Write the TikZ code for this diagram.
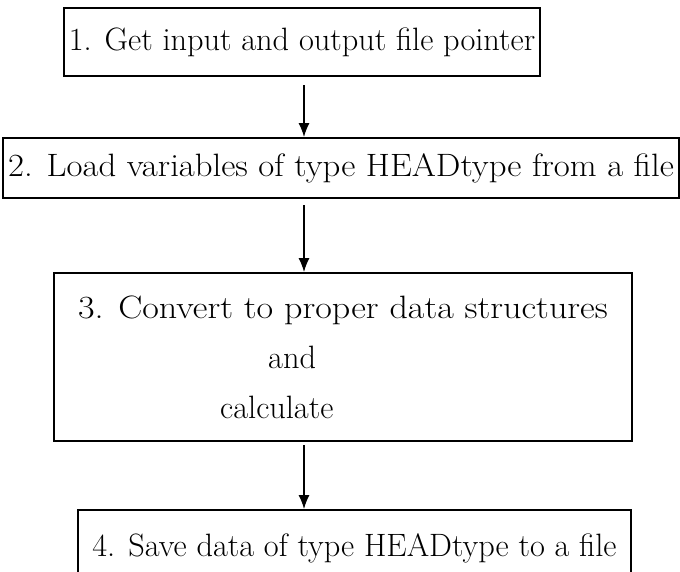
\documentclass[tikz,border=0pt]{standalone}
\usepackage{graphicx}
\usepackage{tikz}
\usetikzlibrary{calc,arrows.meta,positioning}
\tikzset{
	stepbox/.style={draw, line width=0.5mm, rectangle, inner sep=0pt, font=\fontsize{23}{35.6}\selectfont},
	flow/.style={line width=0.35mm, -{Latex[length=3.5mm,width=2.8mm]}}
}

\begin{document}
\begin{tikzpicture}
	%%%%% START %%%%%
	\useasboundingbox (0, 0) rectangle (17, -14.275);

	\node[stepbox, minimum width=11.9cm, minimum height=1.7cm] (get) at (7.55, -1.05) {1. Get input and output file pointer};
	\node[stepbox, minimum width=16.9cm, minimum height=1.5cm] (load) at (8.525, -4.2)
		{\scalebox{1.075}[1]{2. Load variables of type HEADtype from a file}};
	\node[stepbox, minimum width=14.45cm, minimum height=4.2cm, align=left] (convert) at (8.575, -8.925)
		{\scalebox{1.115}[1]{3. Convert to proper data structures}\\ \hspace*{4.75cm}and\\ \hspace*{3.55cm}calculate};
	\node[stepbox, minimum width=13.825cm, minimum height=1.9cm] (save) at (8.8625, -13.7) {4. Save data of type HEADtype to a file};

	% arrows all run down one column
	\coordinate (col) at (7.6, 0);
	\draw[flow] ($(get.south -| col)+(0,-0.2)$) -- (load.north -| col);
	\draw[flow] ($(load.south -| col)+(0,-0.15)$) -- (convert.north -| col);
	\draw[flow] ($(convert.south -| col)+(0,-0.08)$) -- (save.north -| col);
	%%%%% END %%%%%
\end{tikzpicture}
\end{document}
